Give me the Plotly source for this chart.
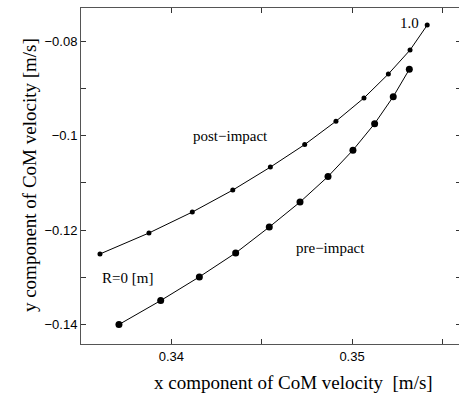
import plotly.graph_objects as go

# R values (0 to 1.0 m)
R = [0.0, 0.1, 0.2, 0.3, 0.4, 0.5, 0.6, 0.7, 0.8, 0.9, 1.0]

post_x = [0.33605, 0.33876, 0.34116, 0.34340, 0.34548, 0.34738, 0.34911, 0.35066, 0.35201, 0.35321, 0.35416]
post_y = [-0.12505, -0.12061, -0.11618, -0.11153, -0.10667, -0.10190, -0.09696, -0.09204, -0.08697, -0.08190, -0.07662]

pre_x = [0.33710, 0.33941, 0.34155, 0.34356, 0.34542, 0.34712, 0.34867, 0.35005, 0.35125, 0.35228, 0.35317]
pre_y = [-0.13998, -0.13491, -0.12990, -0.12484, -0.11935, -0.11407, -0.10866, -0.10308, -0.09747, -0.09176, -0.08598]

x_range = [0.335, 0.35603]
y_range = [-0.1441, -0.0730]

serif = "Liberation Serif"
sans = "Liberation Sans"

fig = go.Figure()
fig.add_trace(go.Scatter(x=post_x, y=post_y, mode="lines+markers",
                         line=dict(color="black", width=1),
                         marker=dict(color="black", size=5, symbol="circle"),
                         customdata=R, name="post-impact", showlegend=False))
fig.add_trace(go.Scatter(x=pre_x, y=pre_y, mode="lines+markers",
                         line=dict(color="black", width=1),
                         marker=dict(color="black", size=7, symbol="circle"),
                         customdata=R, name="pre-impact", showlegend=False))

axis_common = dict(showgrid=False, zeroline=False, showline=True, linecolor="#555",
                   linewidth=1, mirror="ticks", ticks="inside", ticklen=5,
                   tickcolor="#333", tickwidth=1,
                   tickfont=dict(family=sans, size=13, color="black"))

fig.update_xaxes(range=x_range, dtick=0.01, tick0=0.34,
                 minor=dict(dtick=0.005, tick0=0.335, ticks="inside", ticklen=5, tickcolor="#333"),
                 **axis_common)
fig.update_yaxes(range=y_range, dtick=0.02, tick0=-0.14,
                 minor=dict(dtick=0.01, tick0=-0.14, ticks="inside", ticklen=5, tickcolor="#333"),
                 **axis_common)

ann_font = dict(family=serif, size=15, color="black")
fig.add_annotation(x=post_x[-1], y=post_y[-1], text="1.0", xref="x", yref="y",
                   showarrow=False, xanchor="right", xshift=-6, yshift=2, font=ann_font)
fig.add_annotation(x=0.34325, y=-0.1000, text="post\u2212impact", xref="x", yref="y",
                   showarrow=False, font=ann_font)
fig.add_annotation(x=0.34878, y=-0.12372, text="pre\u2212impact", xref="x", yref="y",
                   showarrow=False, font=ann_font)
fig.add_annotation(x=post_x[0], y=-0.13005, text="R=0 [m]", xref="x", yref="y",
                   showarrow=False, xanchor="left", font=ann_font)

title_font = dict(family=serif, size=19, color="black")
fig.add_annotation(x=0.558, y=-0.116, xref="paper", yref="paper",
                   text="x component of CoM velocity &nbsp;[m/s]", showarrow=False,
                   xanchor="center", yanchor="middle", font=title_font)
fig.add_annotation(x=-0.134, y=0.503, xref="paper", yref="paper",
                   text="y component of CoM velocity [m/s]", showarrow=False, textangle=-90,
                   xanchor="center", yanchor="middle", font=title_font)

fig.update_layout(width=461, height=401,
                  margin=dict(l=81, r=0, t=8, b=57),
                  plot_bgcolor="white", paper_bgcolor="white")

fig.write_html("out.html", config={"displayModeBar": False},
               post_script=("document.body.style.margin='0';"
                            "document.body.style.overflow='hidden';"
                            "document.documentElement.style.overflow='hidden';"))
